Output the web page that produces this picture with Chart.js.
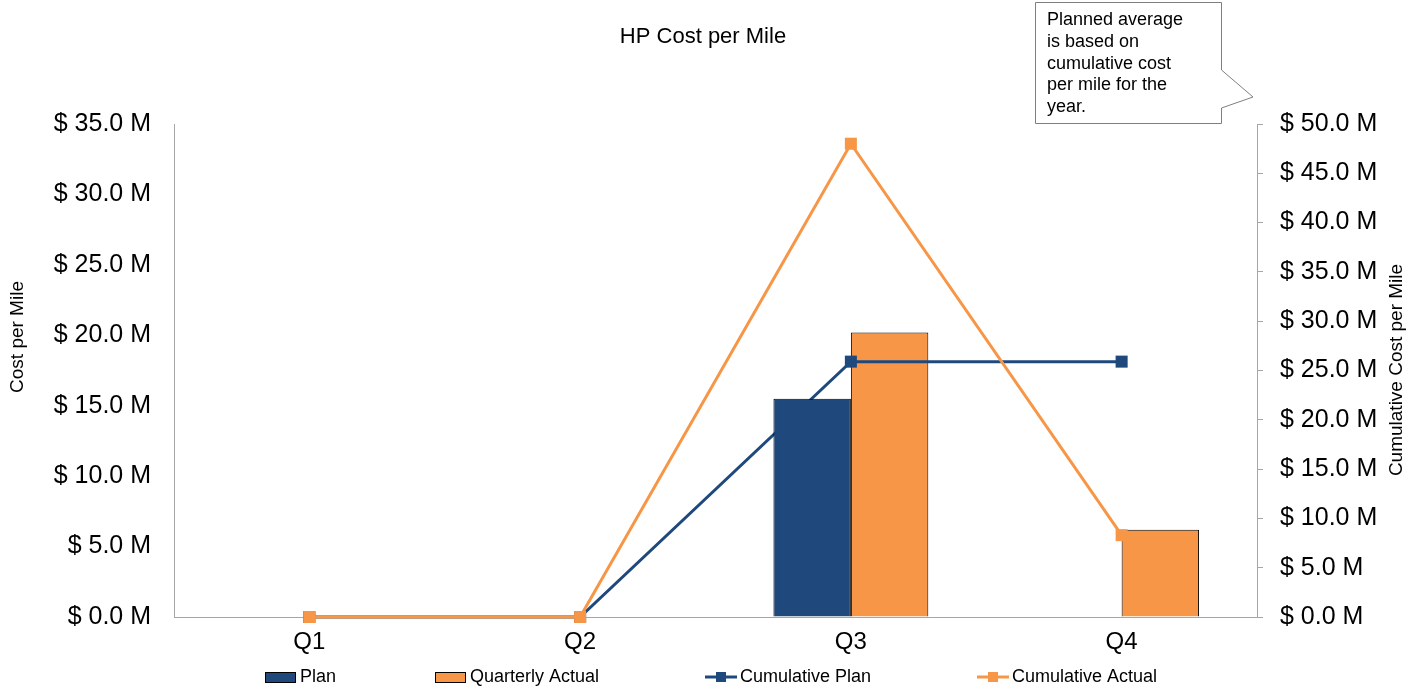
<!DOCTYPE html>
<html>
<head>
<meta charset="utf-8">
<script src="https://cdn.jsdelivr.net/npm/chart.js@4.4.1/dist/chart.umd.min.js"></script>
<style>
  html, body { margin: 0; padding: 0; background: #fff; }
  #wrap { width: 1422px; height: 694px; }
</style>
</head>
<body>
<div id="wrap"><canvas id="costChart" width="1422" height="694"></canvas></div>
<script>
// data ($ millions)
var quarters = ['Q1', 'Q2', 'Q3', 'Q4'];
var planCost = [0, 0, 15.5, 0];
var actualCost = [0, 0, 20.2, 6.2];
var cumPlan = [0, 0, 25.9, 25.9];
var cumActual = [0, 0, 48.0, 8.3];
var seriesNames = ['Plan', 'Quarterly Actual', 'Cumulative Plan', 'Cumulative Actual'];
var leftMax = 35, rightMax = 50, tickStep = 5;

var chartTitle = 'HP Cost per Mile';
var leftTitle = 'Cost per Mile';
var rightTitle = 'Cumulative Cost per Mile';
var noteLines = ['Planned average', 'is based on', 'cumulative cost', 'per mile for the', 'year.'];

var navy = '#1f497d';
var orange = '#f79646';
var axisGray = '#a6a6a6';
var fontFam = '"Liberation Sans", Arial, sans-serif';

function money(v) {
  return '$ ' + Number(v).toFixed(1) + ' M';
}

// titles, the note callout and the legend are drawn here
var extras = {
  id: 'extras',
  afterDraw: function(chart) {
    var ctx = chart.ctx;
    ctx.save();
    ctx.fillStyle = '#000';
    ctx.textBaseline = 'middle';

    ctx.font = '22px ' + fontFam;
    ctx.textAlign = 'center';
    ctx.fillText(chartTitle, 703, 37);

    ctx.font = '19px ' + fontFam;
    ctx.save();
    ctx.translate(18, 337);
    ctx.rotate(-Math.PI / 2);
    ctx.fillText(leftTitle, 0, 0);
    ctx.restore();
    ctx.save();
    ctx.translate(1397, 370);
    ctx.rotate(-Math.PI / 2);
    ctx.fillText(rightTitle, 0, 0);
    ctx.restore();

    // callout box
    ctx.beginPath();
    ctx.moveTo(1035.5, 2.5);
    ctx.lineTo(1221.5, 2.5);
    ctx.lineTo(1221.5, 70);
    ctx.lineTo(1253, 97);
    ctx.lineTo(1221.5, 108);
    ctx.lineTo(1221.5, 123.5);
    ctx.lineTo(1035.5, 123.5);
    ctx.closePath();
    ctx.fillStyle = '#fff';
    ctx.fill();
    ctx.strokeStyle = '#7f7f7f';
    ctx.lineWidth = 1;
    ctx.stroke();
    ctx.fillStyle = '#000';
    ctx.font = '18px ' + fontFam;
    ctx.textAlign = 'left';
    for (var i = 0; i < noteLines.length; i++)
      ctx.fillText(noteLines[i], 1047, 20 + i * 21.8);

    // legend
    var legX = [265, 435, 705, 977];
    var legY = 677;
    var ds = chart.data.datasets;
    for (var k = 0; k < ds.length; k++) {
      var x = legX[k];
      if (ds[k].type === 'bar') {
        ctx.fillStyle = ds[k].backgroundColor;
        ctx.fillRect(x, legY - 5, 30, 10);
        ctx.strokeStyle = '#000';
        ctx.lineWidth = 1;
        ctx.strokeRect(x + 0.5, legY - 4.5, 30, 10);
      } else {
        ctx.strokeStyle = ds[k].borderColor;
        ctx.lineWidth = 3;
        ctx.beginPath();
        ctx.moveTo(x, legY);
        ctx.lineTo(x + 32, legY);
        ctx.stroke();
        ctx.fillStyle = ds[k].borderColor;
        ctx.fillRect(x + 11, legY - 5, 10, 10);
      }
      ctx.fillStyle = '#000';
      ctx.font = '18px ' + fontFam;
      ctx.fillText(ds[k].label, x + 35, legY);
    }
    ctx.restore();
  }
};

var ctx1 = document.getElementById('costChart');
var config = {
  type: 'bar',
  data: {
    labels: quarters,
    datasets: [
      {
        type: 'bar',
        label: seriesNames[0],
        data: planCost,
        backgroundColor: navy,
        borderColor: '#000',
        borderWidth: 1,
        yAxisID: 'y',
        order: 1,
        categoryPercentage: 0.572,
        barPercentage: 1
      },
      {
        type: 'bar',
        label: seriesNames[1],
        data: actualCost,
        backgroundColor: orange,
        borderColor: '#000',
        borderWidth: 1,
        yAxisID: 'y',
        order: 3,
        categoryPercentage: 0.572,
        barPercentage: 1
      },
      {
        type: 'line',
        label: seriesNames[2],
        data: cumPlan,
        borderColor: navy,
        backgroundColor: navy,
        borderWidth: 3,
        pointStyle: 'rect',
        pointRadius: 8.5,
        pointBorderWidth: 0,
        tension: 0,
        clip: false,
        yAxisID: 'y1',
        order: 2
      },
      {
        type: 'line',
        label: seriesNames[3],
        data: cumActual,
        borderColor: orange,
        backgroundColor: orange,
        borderWidth: 3,
        pointStyle: 'rect',
        pointRadius: 8.5,
        pointBorderWidth: 0,
        tension: 0,
        clip: false,
        yAxisID: 'y1',
        order: 0
      }
    ]
  },
  options: {
    responsive: false,
    animation: false,
    layout: { padding: { top: 124, bottom: 37, left: 0, right: 0 } },
    plugins: {
      legend: { display: false },
      title: { display: false },
      tooltip: { enabled: false }
    },
    scales: {
      x: {
        grid: { display: true, drawOnChartArea: false, drawTicks: false },
        border: { color: axisGray, width: 1 },
        ticks: { color: '#000', font: { family: fontFam, size: 24 }, padding: 11 },
        afterFit: function(s) { s.height = 40; }
      },
      y: {
        position: 'left',
        min: 0,
        max: leftMax,
        grid: { display: true, drawOnChartArea: false, drawTicks: false },
        border: { color: axisGray, width: 1 },
        ticks: {
          stepSize: tickStep,
          color: '#000',
          font: { family: fontFam, size: 25 },
          padding: 23,
          callback: money
        },
        afterFit: function(s) { s.width = 174; }
      },
      y1: {
        position: 'right',
        min: 0,
        max: rightMax,
        grid: { display: true, drawOnChartArea: false, drawTicks: true, tickLength: 6, color: axisGray },
        border: { color: axisGray, width: 1 },
        ticks: {
          stepSize: tickStep,
          color: '#000',
          font: { family: fontFam, size: 25 },
          padding: 17,
          callback: money
        },
        afterFit: function(s) { s.width = 165; }
      }
    }
  },
  plugins: [extras]
};
var costChart = new Chart(ctx1, config);
</script>
</body>
</html>
